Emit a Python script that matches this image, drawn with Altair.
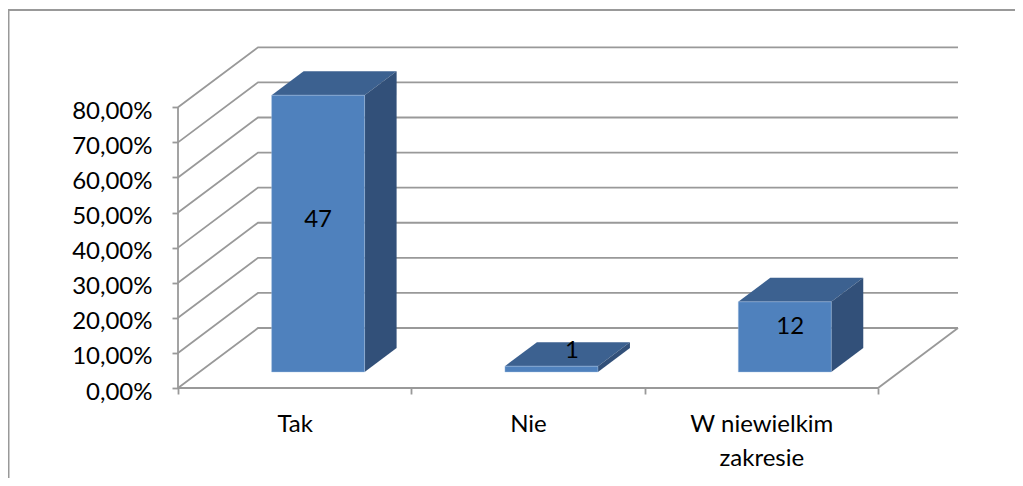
import altair as alt
import pandas as pd

categories = ["Tak", "Nie", "W niewielkim zakresie"]
percent_values = [78.9, 1.67, 20.00]
counts = [47, 1, 12]
y_ticks = [0, 10, 20, 30, 40, 50, 60, 70, 80]

# pixel geometry of the projection
X0, X_RIGHT_BACK = 178, 958
Y_TOP, Y0 = 46, 388
W, H = X_RIGHT_BACK - X0, Y0 - Y_TOP
PX_PER_CAT = 700 / 3
PX_PER_PCT = (388 - 107.3) / 80
DEPTH_DX = 80 / PX_PER_CAT            # category units per full depth
DEPTH_DY = 60 / PX_PER_PCT            # percent units per full depth
X_MAX = W / PX_PER_CAT
Y_MAX = H / PX_PER_PCT

BAR_LEFT = 93.6 / PX_PER_CAT          # left gap of the bar front
BAR_W = 93 / PX_PER_CAT
D0, D1 = 16 / 60, 24 / 60             # bar base lift / bar depth
LABEL_DX = [0.0, 20.5, 5.5]
LABEL_DY = [-14.0, -18.0, -10.0]

FRONT, TOP, SIDE = "#4F81BD", "#3C6190", "#325079"
GRID = "#999999"
FONT = "Lato"
FS = 24
SW = 1.8

xs = alt.Scale(domain=[0, X_MAX], range=[0, W], nice=False, zero=False)
ys = alt.Scale(domain=[0, Y_MAX], range=[H, 0], nice=False, zero=False)

# grid lines: left wall, back wall, floor, axis lines
rows = []
g = 0
for t in y_ticks:
    rows += [dict(g=g, o=0, x=0, y=t), dict(g=g, o=1, x=DEPTH_DX, y=t + DEPTH_DY),
             dict(g=g, o=2, x=3 + DEPTH_DX, y=t + DEPTH_DY)]
    g += 1
rows += [dict(g=g, o=0, x=3 + DEPTH_DX, y=DEPTH_DY), dict(g=g, o=1, x=3, y=0), dict(g=g, o=2, x=0, y=0)]
g += 1
rows += [dict(g=g, o=0, x=0, y=0), dict(g=g, o=1, x=0, y=80)]
grid = alt.Chart(pd.DataFrame(rows)).mark_line(color=GRID, strokeWidth=SW).encode(
    x=alt.X("x:Q", scale=xs, title=None,
            axis=alt.Axis(values=[0, 0.5, 1, 1.5, 2, 2.5, 3], domain=False, grid=False,
                          tickColor=GRID, tickWidth=SW, tickSize=6,
                          tickOpacity={"condition": {"test": "datum.value % 1 == 0", "value": 1}, "value": 0},
                          labelExpr="datum.value == 0.5 ? 'Tak' : datum.value == 1.5 ? 'Nie' : datum.value == 2.5 ? ['W niewielkim', 'zakresie'] : ''",
                          labelFont=FONT, labelFontSize=FS, labelColor="black", labelOverlap=False,
                          labelFlush=False, labelPadding=18, labelLineHeight=34, labelAngle=0)),
    y=alt.Y("y:Q", scale=ys, title=None,
            axis=alt.Axis(values=y_ticks, domain=False, grid=False, tickColor=GRID, tickWidth=SW, tickSize=6,
                          labelExpr="replace(format(datum.value, '.2f'), '.', ',') + '%'",
                          labelFont=FONT, labelFontSize=FS, labelColor="black", labelOverlap=False,
                          labelFlush=False, labelPadding=20, labelOffset=4)),
    detail="g:N", order="o:Q")

# bars
front, tops, sides = [], [], []
for i, v in enumerate(percent_values):
    x0 = i + BAR_LEFT
    x1 = x0 + BAR_W
    y0 = D0 * DEPTH_DY
    y1 = y0 + v
    d = D1 * DEPTH_DY
    dx = D1 * DEPTH_DX
    front.append(dict(x=x0, x2=x1, y=y0, y2=y1))
    tops += [dict(f=i, x=x0, y=y1, y2=y1),
             dict(f=i, x=x0 + dx, y=y1, y2=y1 + d),
             dict(f=i, x=x1, y=y1, y2=y1 + d),
             dict(f=i, x=x1 + dx, y=y1 + d, y2=y1 + d)]
    sides += [dict(f=i, x=x1, y=y0, y2=y1),
              dict(f=i, x=x1 + dx, y=y0 + d, y2=y1 + d)]


def face(rows_, colour):
    return alt.Chart(pd.DataFrame(rows_)).mark_area(color=colour, orient="vertical").encode(
        x=alt.X("x:Q", scale=xs),
        y=alt.Y("y:Q", scale=ys, stack=None),
        y2="y2:Q",
        detail="f:N")


front_chart = alt.Chart(pd.DataFrame(front)).mark_rect(color=FRONT, stroke="#A9C4E6", strokeWidth=0.4).encode(
    x=alt.X("x:Q", scale=xs), x2="x2:Q", y=alt.Y("y:Q", scale=ys), y2="y2:Q")

# data labels
labels = pd.DataFrame({
    "x": [i + BAR_LEFT + BAR_W / 2 + LABEL_DX[i] / PX_PER_CAT for i in range(3)],
    "y": [D0 * DEPTH_DY + v / 2 - LABEL_DY[i] / PX_PER_PCT for i, v in enumerate(percent_values)],
    "t": counts,
})
text = alt.Chart(labels).mark_text(font=FONT, fontSize=FS, color="black").encode(
    x=alt.X("x:Q", scale=xs), y=alt.Y("y:Q", scale=ys), text="t:Q")

one = pd.DataFrame({"a": [1]})
frame_left = alt.Chart(one).mark_rule(color=GRID, strokeWidth=2).encode(
    x=alt.value(-169.5), y=alt.value(-36), y2=alt.value(432))
frame_top = alt.Chart(one).mark_rule(color=GRID, strokeWidth=2).encode(
    x=alt.value(-170), x2=alt.value(837), y=alt.value(-36))

chart = alt.layer(frame_left, frame_top, grid, face(tops, TOP), face(sides, SIDE), front_chart, text).properties(
    width=W, height=H,
    autosize=alt.AutoSizeParams(type="none"),
    padding={"left": 170, "top": 38, "right": 1007 - 170 - W, "bottom": 470 - 38 - H},
).configure_view(stroke=None)

chart.save("out.html", embed_options={"renderer": "svg", "actions": False})
